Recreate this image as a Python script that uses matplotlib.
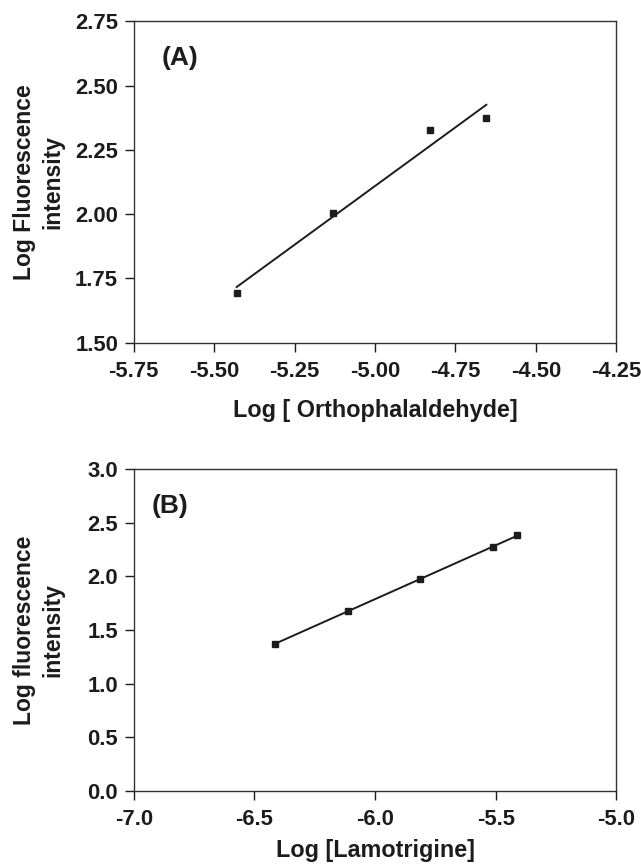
import numpy as np
import matplotlib
matplotlib.use("Agg")
import matplotlib.pyplot as plt
from matplotlib.ticker import FormatStrFormatter

# panel A: orthophthalaldehyde
opa_x = [-5.43, -5.13, -4.83, -4.654]
opa_y = [1.695, 2.003, 2.326, 2.373]

# panel B: lamotrigine
ltg_x = [-6.414, -6.113, -5.812, -5.511, -5.413]
ltg_y = [1.373, 1.675, 1.974, 2.273, 2.385]

xticks_a = [-5.75, -5.50, -5.25, -5.00, -4.75, -4.50, -4.25]
yticks_a = [1.50, 1.75, 2.00, 2.25, 2.50, 2.75]
xticks_b = [-7.0, -6.5, -6.0, -5.5, -5.0]
yticks_b = [0.0, 0.5, 1.0, 1.5, 2.0, 2.5, 3.0]

plt.rcParams['font.family'] = ['Liberation Sans', 'DejaVu Sans']
plt.rcParams['font.weight'] = 'bold'
plt.rcParams['axes.unicode_minus'] = False

ink = '#1c1c1c'
W, H = 641, 868
fig = plt.figure(figsize=(W / 100, H / 100), dpi=100)


def panel(rect, xs, ys, xt, yt, fmt, xlab, ylab, tag, tagpos, lpad):
    ax = fig.add_axes(rect)
    ax.plot(xs, ys, 's', color=ink, markersize=4.2, zorder=3)
    k, b = np.polyfit(xs, ys, 1)
    lx = np.array([min(xs), max(xs)])
    ax.plot(lx, k * lx + b, '-', color=ink, lw=1.4)
    ax.set_xlim(xt[0], xt[-1])
    ax.set_ylim(yt[0], yt[-1])
    ax.set_xticks(xt)
    ax.set_yticks(yt)
    ax.xaxis.set_major_formatter(FormatStrFormatter(fmt))
    ax.yaxis.set_major_formatter(FormatStrFormatter(fmt))
    ax.tick_params(direction='out', length=6.8, width=1.0, colors=ink,
                   labelsize=15.8)
    ax.tick_params(axis='x', pad=6.5)
    ax.tick_params(axis='y', pad=4.5)
    for lab in ax.get_xticklabels() + ax.get_yticklabels():
        lab.set_fontweight('bold')
    for s in ax.spines.values():
        s.set_color('#333333')
        s.set_linewidth(1.0)
    ax.set_xlabel(xlab, fontsize=16.8, fontweight='bold', color=ink,
                  labelpad=lpad)
    # two-line y label, placed by hand
    pos = ax.get_position()
    fig.text(38.5 / W, pos.y0 + pos.height / 2, ylab, rotation=90,
             ha='center', va='center', fontsize=16.5, fontweight='bold',
             color=ink, linespacing=1.3, multialignment='center')
    ax.text(tagpos[0], tagpos[1], tag, transform=ax.transAxes,
            ha='left', va='center', fontsize=19, fontweight='bold',
            color=ink)
    return ax


panel([133.7 / W, 1 - 342.7 / H, 482.6 / W, 321.4 / H],
      opa_x, opa_y, xticks_a, yticks_a, '%.2f',
      'Log [ Orthophalaldehyde]', 'Log Fluorescence\nintensity',
      '(A)', (0.058, 0.886), 12)

panel([133.7 / W, 1 - 790.7 / H, 482.6 / W, 321.4 / H],
      ltg_x, ltg_y, xticks_b, yticks_b, '%.1f',
      'Log [Lamotrigine]', 'Log fluorescence\nintensity',
      '(B)', (0.038, 0.887), 6.5)

fig.savefig('out.png', dpi=100)
